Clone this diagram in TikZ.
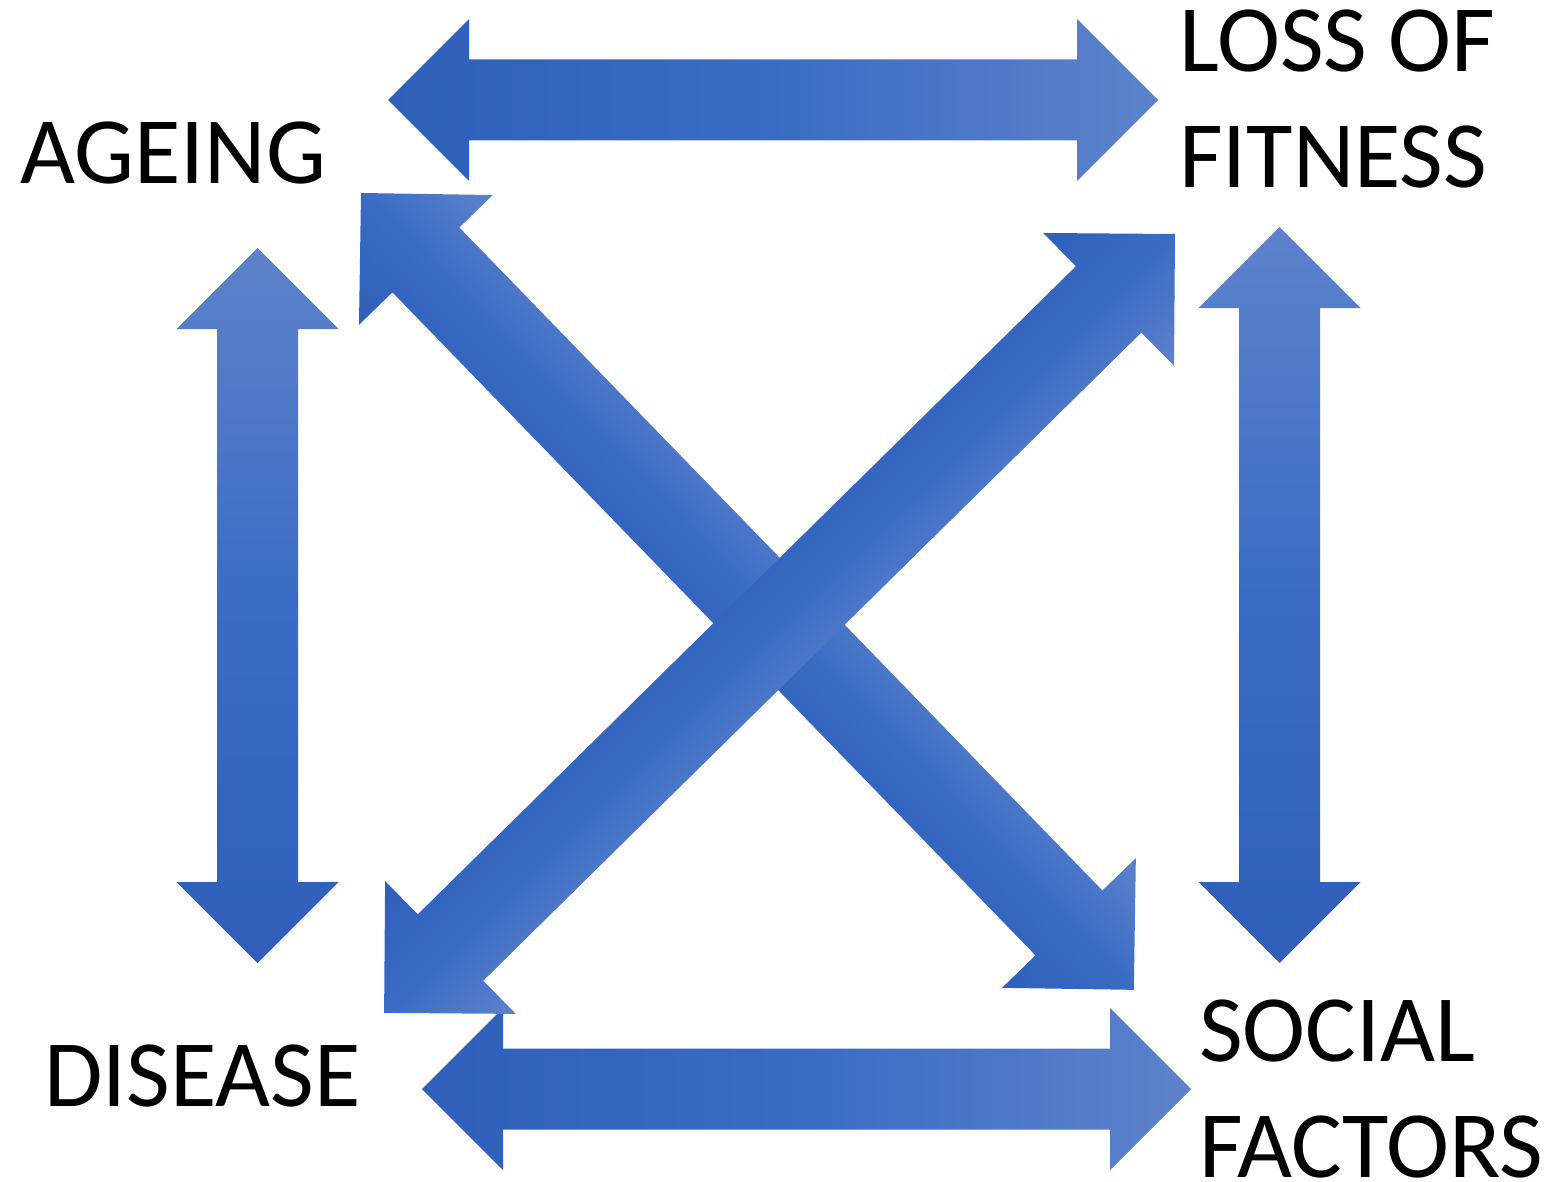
\documentclass[tikz,border=0pt]{standalone}
\usepackage{fontspec}
\setmainfont{Carlito}

\definecolor{arrowdark}{RGB}{47,95,184}
\definecolor{arrowmid}{RGB}{58,108,197}
\definecolor{arrowlight}{RGB}{93,130,202}

\tikzset{
  termtext/.style={anchor=base west,inner sep=0pt,align=left,font=\fontsize{95}{116}\selectfont},
  alongshade/.style={left color=arrowdark,right color=arrowlight,middle color=arrowmid},
  acrossshade/.style={top color=arrowlight,bottom color=arrowdark,middle color=arrowmid},
}

% #1 shading, #2 half shaft width, #3 from, #4 to
\newcommand{\blockarrow}[4]{%
  \pgfmathanglebetweenpoints{\pgfpointanchor{#3}{center}}{\pgfpointanchor{#4}{center}}%
  \let\arrowang\pgfmathresult
  \pgfpointdiff{\pgfpointanchor{#3}{center}}{\pgfpointanchor{#4}{center}}%
  \pgfgetlastxy{\arrowdx}{\arrowdy}%
  \pgfmathsetmacro{\arrowlen}{veclen(\arrowdx,\arrowdy)}%
  \pgfmathsetmacro{\arrowhead}{2*#2}%
  \pgfmathsetmacro{\arrowback}{\arrowlen-\arrowhead}%
  \begin{scope}[transform canvas={shift={(#3)},rotate=\arrowang}]
    \shade[#1] (0pt,0pt) -- (\arrowhead pt,\arrowhead pt) -- (\arrowhead pt,#2pt)
      -- (\arrowback pt,#2pt) -- (\arrowback pt,\arrowhead pt) -- (\arrowlen pt,0pt)
      -- (\arrowback pt,-\arrowhead pt) -- (\arrowback pt,-#2pt)
      -- (\arrowhead pt,-#2pt) -- (\arrowhead pt,-\arrowhead pt) -- cycle;
  \end{scope}}

\begin{document}
\begin{tikzpicture}[x=1pt,y=-1pt]
\useasboundingbox (0,0) rectangle (1554,1182);

\node[termtext] (ageing) at (20,184) {AGEING};
\node[termtext] (fitness) at (1179,188) {LOSS OF\\FITNESS};
\node[termtext] (disease) at (44,1106) {DISEASE};
\node[termtext] (social) at (1199,1177) {SOCIAL\\FACTORS};

\coordinate (top l) at (388,100);
\coordinate (top r) at (1158,100);
\coordinate (bot l) at (422,1089);
\coordinate (bot r) at (1191,1089);
\coordinate (left t) at (257.5,248);
\coordinate (left b) at (257.5,963);
\coordinate (right t) at (1279.5,227);
\coordinate (right b) at (1279.5,963);
\coordinate (diag a) at (361,193);
\coordinate (diag s) at (1134,990);
\coordinate (diag f) at (1175,234);
\coordinate (diag d) at (384,1013);

\blockarrow{alongshade}{40.5}{top l}{top r}
\blockarrow{alongshade}{40.5}{bot l}{bot r}
\blockarrow{alongshade}{40.5}{left b}{left t}
\blockarrow{alongshade}{40.5}{right b}{right t}
\blockarrow{acrossshade}{46.6}{diag a}{diag s}
\blockarrow{acrossshade}{46.6}{diag f}{diag d}
\end{tikzpicture}
\end{document}
